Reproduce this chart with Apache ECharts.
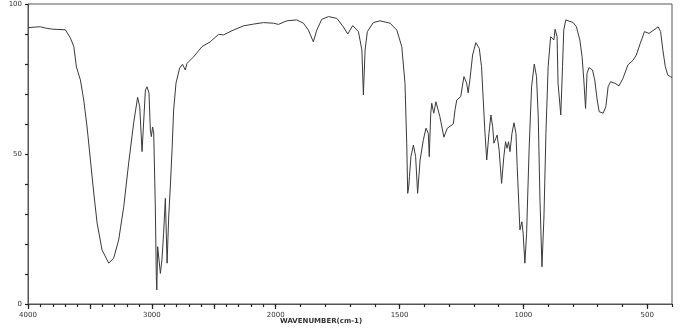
<!DOCTYPE html>
<html>
<head>
<meta charset="utf-8">
<script src="https://cdn.jsdelivr.net/npm/echarts@6/dist/echarts.min.js"></script>
<style>html,body{margin:0;padding:0;background:#fff}#c{width:700px;height:335px}</style>
</head>
<body>
<div id="c"></div>
<script>
// Wavenumbers (cm-1) and transmittance (%)
const wavenumbers = [4000,3950,3900,3850,3800,3750,3698,3657,3630,3609,3577,3550,3523,3496,3469,3442,3402,3348,3308,3268,3227,3187,3147,3115,3098,3079,3071,3052,3039,3023,3012,3004,2994,2985,2972,2964,2960,2953,2945,2931,2918,2905,2891,2877,2864,2851,2837,2824,2805,2776,2752,2730,2716,2663,2595,2528,2461,2421,2353,2260,2179,2099,2018,1989,1982,1955,1915,1888,1868,1848,1834,1814,1787,1753,1727,1709,1689,1666,1652,1646,1639,1630,1606,1579,1538,1511,1491,1478,1471,1467,1463,1460,1454,1444,1435,1427,1417,1404,1393,1384,1380,1374,1370,1362,1353,1337,1321,1307,1283,1276,1269,1253,1240,1229,1223,1216,1205,1192,1178,1169,1162,1155,1148,1139,1131,1124,1119,1106,1098,1088,1079,1072,1066,1060,1054,1046,1038,1030,1025,1018,1014,1006,1001,994,987,977,967,956,947,940,933,925,917,909,900,890,882,877,872,864,860,849,842,837,829,799,786,772,763,756,749,743,735,721,712,702,694,678,667,658,648,631,614,598,578,557,544,528,511,493,477,456,446,437,427,417,407,400];
const transmittance = [92.1,92.3,92.4,91.9,91.6,91.5,91.4,88.6,85.8,79,74.7,68,59,48,37,27,18,13.6,15.3,21.3,32.4,47,60.3,68.9,65.8,50.8,57,71.3,72.4,70.3,58,55.8,59,57,32.3,9.1,4.7,19.1,19,10.2,15,23.6,35.2,13.6,29,39,51.3,64.7,73.6,78.6,79.9,78,80.2,82.4,85.8,87.4,89.9,89.7,91.1,92.7,93.3,93.8,93.6,93.2,93.3,94.4,94.7,93.6,91.3,87.4,91.3,94.9,95.8,95.2,92.4,90,92.8,90.8,84.7,69.7,84.7,90.8,93.8,94.4,93.6,91.3,85.8,73.6,53.6,36.9,39,42.4,49.1,53,49.1,36.9,48,54.7,58.6,56.9,49.1,63.6,66.9,63.6,67.4,62.4,55.6,58.6,60,64.7,68,69.1,75.8,73.6,70.4,74.7,83,87.1,85.2,79.1,68,56.9,48,56.9,63,59.1,53.6,56.3,51.3,40.2,49.1,54.1,51.9,54.1,50.8,56.9,60.4,56.9,45.8,32.4,24.7,27.4,23.6,13.6,23.6,51.3,72.4,80,75.8,62.4,34.7,12.4,29,56.9,79.1,89.1,89.7,88,91.6,89.1,73.6,63,79.1,91.3,94.7,93.8,92.4,88,82.4,74.7,65.2,76.9,78.8,78,74.7,68,64.1,63.6,65.8,72.4,74.1,73.6,72.7,75.2,79.7,81.3,83,86.9,90.8,90.2,91.1,92.4,90.8,84.7,79.1,76.3,75.8,75.5];
const xLabelValues = [4000,3000,2000,1500,1000,500];
const xMajorTicks = [4000,3500,3000,2500,2000,1500,1000,500];
const yLabelValues = [0,50,100];

// Scale changes at 2000 cm-1 (half compression above 2000)
function toU(w){ return w >= 2000 ? (4000 - w) / 2 : 1000 + (2000 - w); }
function fromU(u){ return u <= 1000 ? 4000 - 2*u : 2000 - (u - 1000); }

const minorTicks = [];
for (let w = 4000; w >= 400; w -= 100) minorTicks.push(toU(w));
const data = wavenumbers.map((w,i)=>[toU(w), transmittance[i]]);

const fontFam = 'DejaVu Sans, Liberation Sans, sans-serif';
const chart = echarts.init(document.getElementById('c'), null, {renderer:'canvas'});
chart.setOption({
  animation:false,
  backgroundColor:'#fff',
  grid:{left:28,right:28,top:4,bottom:31,show:true,borderColor:'#555',borderWidth:1,outerBoundsMode:'none'},
  xAxis:[{
    type:'value',min:0,max:2600,position:'bottom',
    axisLine:{show:true,lineStyle:{color:'#555',width:1}},
    axisTick:{show:true,length:3,customValues:minorTicks,lineStyle:{color:'#222',width:1.2}},
    axisLabel:{show:false},splitLine:{show:false}
  },{
    type:'value',min:0,max:2600,position:'bottom',offset:0,
    axisLine:{show:false},
    axisTick:{show:true,length:5,customValues:xMajorTicks.map(toU),lineStyle:{color:'#222',width:1.2}},
    axisLabel:{show:true,customValues:xLabelValues.map(toU),formatter:v=>String(Math.round(fromU(v))),
      fontSize:7,fontFamily:fontFam,color:'#333',margin:8},
    splitLine:{show:false}
  }],
  yAxis:{
    type:'value',min:0,max:100,interval:10,
    name:'TRANSMITTANCE(%)',nameLocation:'middle',nameRotate:90,nameGap:21,
    nameTextStyle:{fontSize:7,fontFamily:fontFam,fontWeight:'bold',color:'#333'},
    axisLine:{show:true,lineStyle:{color:'#555',width:1}},
    axisTick:{show:true,length:3,lineStyle:{color:'#222',width:1.2}},
    axisLabel:{show:true,customValues:yLabelValues,fontSize:7,fontFamily:fontFam,color:'#333',margin:6},
    splitLine:{show:false}
  },
  graphic:[{
    type:'text',left:280,top:318,
    style:{text:'WAVENUMBER(cm-1)',font:'bold 7px '+fontFam,fill:'#333'}
  }],
  series:[{
    type:'line',xAxisIndex:0,data:data,showSymbol:false,smooth:false,
    lineStyle:{color:'#3a3a3a',width:1},silent:true
  }]
});
</script>
</body>
</html>
